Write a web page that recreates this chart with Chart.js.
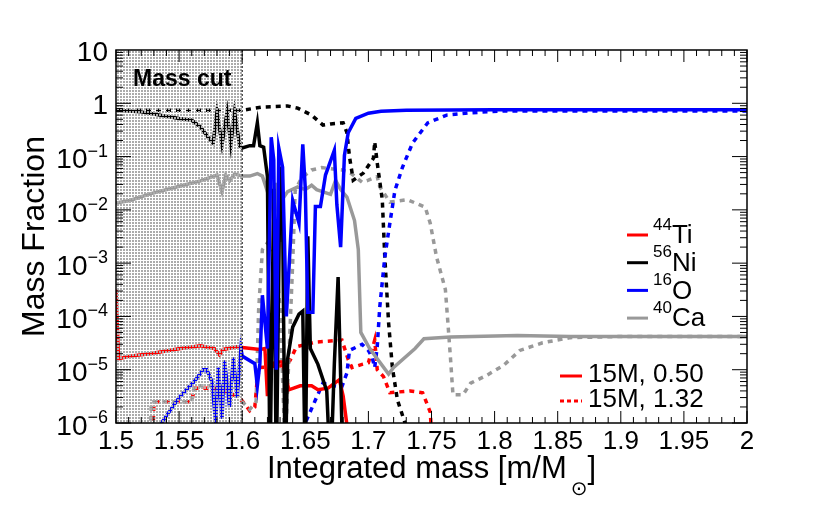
<!DOCTYPE html>
<html>
<head>
<meta charset="utf-8">
<script src="https://cdn.jsdelivr.net/npm/chart.js@4/dist/chart.umd.min.js"></script>
<style>
  html, body { margin: 0; padding: 0; background: #fff; }
  canvas { display: block; }
</style>
</head>
<body>
<canvas id="myChart" width="830" height="505"></canvas>
<script>
// [integrated mass, mass fraction]; 1e-7 / 3e-7 mean "below the axis"
// 15M, 0.50 (solid)
const ti44Solid = [[1.5,3.2e-4],[1.502,1.6e-5],[1.511,1.8e-5],[1.527,2e-5],[1.551,2.5e-5],[1.567,2.8e-5],[1.578,2.5e-5],[1.582,1.9e-5],[1.585,2.4e-5],[1.596,2.7e-5],[1.6,2.6e-5],[1.614,2.4e-5],[1.618,2.5e-5],[1.62,3.2e-6],[1.622,1.26e-5],[1.628,1.4e-5],[1.632,1.4e-5],[1.637,4.2e-6],[1.646,5e-6],[1.655,5e-6],[1.66,4.2e-6],[1.668,4.5e-6],[1.677,6.5e-6],[1.68,3.2e-6],[1.684,6e-7]];
const ni56Solid = [[1.5,0.74],[1.52,0.69],[1.55,0.52],[1.56,0.48],[1.567,0.36],[1.573,0.23],[1.577,0.18],[1.58,0.68],[1.584,0.17],[1.588,0.68],[1.591,0.17],[1.594,0.68],[1.598,0.16],[1.6,0.145],[1.606,0.16],[1.609,0.16],[1.612,0.43],[1.614,0.16],[1.617,0.15],[1.62,0.042],[1.622,1e-7],[1.625,0.025],[1.627,1e-7],[1.63,0.065],[1.632,0.01],[1.634,1e-7],[1.636,1.6e-5],[1.64,6.3e-5],[1.645,1.1e-4],[1.648,1.26e-4],[1.65,1e-7],[1.652,3.2e-3],[1.654,2.5e-5],[1.66,1.26e-5],[1.667,4e-6],[1.67,1e-7],[1.673,1.26e-5],[1.676,5.5e-4],[1.68,1e-7]];
const o16Solid = [[1.533,1e-7],[1.536,1e-6],[1.55,3e-6],[1.562,6e-6],[1.569,1e-5],[1.572,1e-5],[1.576,6e-6],[1.579,1e-6],[1.581,1.1e-5],[1.584,1.2e-6],[1.586,1.5e-5],[1.59,2e-6],[1.593,1.7e-5],[1.596,3e-6],[1.599,2.5e-5],[1.6,1.8e-5],[1.61,1.3e-5],[1.612,5e-6],[1.614,1.3e-5],[1.616,2.5e-4],[1.62,2.5e-5],[1.623,0.23],[1.625,0.087],[1.627,1e-5],[1.629,0.145],[1.632,0.063],[1.635,1e-4],[1.64,0.015],[1.645,5.6e-3],[1.648,0.17],[1.65,0.025],[1.652,1.2e-4],[1.656,1.2e-4],[1.658,0.0115],[1.662,0.0115],[1.666,0.045],[1.673,0.13],[1.675,0.0126],[1.678,2e-3],[1.681,0.105],[1.684,0.28],[1.69,0.52],[1.7,0.65],[1.71,0.71],[1.73,0.74],[1.8,0.76],[2.0,0.76]];
const ca40Solid = [[1.5,0.0135],[1.511,0.015],[1.527,0.02],[1.551,0.028],[1.567,0.035],[1.58,0.045],[1.584,0.022],[1.587,0.045],[1.59,0.035],[1.594,0.047],[1.6,0.043],[1.606,0.043],[1.612,0.048],[1.616,0.043],[1.62,0.022],[1.622,0.05],[1.625,0.0063],[1.627,0.032],[1.63,0.0025],[1.632,0.016],[1.636,0.022],[1.644,0.027],[1.65,0.024],[1.655,0.029],[1.659,0.024],[1.67,0.0195],[1.674,0.036],[1.678,0.024],[1.683,0.0174],[1.689,0.0063],[1.692,0.0018],[1.694,5e-5],[1.701,2.5e-5],[1.716,8.3e-6],[1.72,1.1e-5],[1.737,2.5e-5],[1.744,3.8e-5],[1.765,4.1e-5],[1.818,4.4e-5],[1.86,4.2e-5],[2.0,4.2e-5]];
// 15M, 1.32 (dotted)
const ti44Dot = [[1.529,3e-7],[1.53,2.5e-6],[1.56,2.5e-6],[1.562,4.5e-6],[1.578,4.5e-6],[1.59,3.8e-6],[1.6,2.6e-6],[1.606,1.7e-6],[1.61,2e-6],[1.612,7e-6],[1.614,1.1e-5],[1.634,1.2e-5],[1.638,1.5e-5],[1.643,2.7e-5],[1.658,3.3e-5],[1.679,3.6e-5],[1.684,1.55e-5],[1.687,1.1e-5],[1.695,1.26e-5],[1.7,1.35e-5],[1.705,3.6e-5],[1.707,1e-5],[1.712,7.4e-6],[1.717,3.7e-6],[1.733,4e-6],[1.743,3.7e-6],[1.749,1.6e-6],[1.751,3e-7]];
const ni56Dot = [[1.5,0.74],[1.6,0.74],[1.616,0.85],[1.636,0.89],[1.644,0.81],[1.655,0.6],[1.664,0.39],[1.67,0.41],[1.68,0.43],[1.683,0.28],[1.685,0.1],[1.688,0.036],[1.696,0.049],[1.704,0.093],[1.705,0.19],[1.707,0.076],[1.711,0.0155],[1.713,1.3e-3],[1.716,7.6e-5],[1.719,1.1e-5],[1.723,2.7e-6],[1.729,1e-6],[1.732,3e-7]];
const o16Dot = [[1.648,3e-7],[1.65,1e-6],[1.658,2.7e-6],[1.664,5.6e-6],[1.67,5.1e-6],[1.679,4.8e-6],[1.683,8.7e-6],[1.685,2.3e-5],[1.695,3e-5],[1.7,2.3e-5],[1.703,1.7e-5],[1.705,1.1e-5],[1.707,2.7e-5],[1.709,1.5e-4],[1.713,1.3e-3],[1.717,5.6e-3],[1.721,0.023],[1.727,0.063],[1.735,0.18],[1.747,0.43],[1.762,0.6],[1.78,0.66],[1.807,0.72],[1.86,0.72],[2.0,0.72]];
const ca40Dot = [[1.527,3e-7],[1.528,2.5e-6],[1.56,2.5e-6],[1.562,5e-6],[1.58,5e-6],[1.592,4.5e-6],[1.6,2.5e-6],[1.606,1.8e-6],[1.611,2.5e-6],[1.613,1.3e-4],[1.616,1.8e-3],[1.62,2.4e-3],[1.626,1.55e-3],[1.63,1.5e-4],[1.634,3e-7],[1.64,1e-3],[1.642,0.023],[1.647,0.04],[1.655,0.056],[1.663,0.062],[1.679,0.056],[1.685,0.051],[1.695,0.033],[1.7,0.036],[1.707,0.042],[1.709,0.027],[1.717,0.014],[1.731,0.0155],[1.745,0.0112],[1.749,5.6e-3],[1.754,1.3e-3],[1.761,3.2e-4],[1.763,7.6e-5],[1.765,1.7e-5],[1.767,3.4e-6],[1.775,3.4e-6],[1.781,5.6e-6],[1.794,7.9e-6],[1.807,1.2e-5],[1.82,2.3e-5],[1.838,3.2e-5],[1.86,4e-5],[1.9,4.2e-5],[2.0,4.2e-5]];

const massCut = 1.6;
const xTickVals = [1.5, 1.55, 1.6, 1.65, 1.7, 1.75, 1.8, 1.85, 1.9, 1.95, 2];
const xTickLabels = ['1.5', '1.55', '1.6', '1.65', '1.7', '1.75', '1.8', '1.85', '1.9', '1.95', '2'];
const yTickExps = [1, 0, -1, -2, -3, -4, -5, -6];
const speciesMass = ['44', '56', '16', '40'];
const speciesName = ['Ti', 'Ni', 'O', 'Ca'];
const speciesColor = ['#ff0000', '#000000', '#0000ff', '#999999'];
const modelLabels = ['15M, 0.50', '15M, 1.32'];

const FONT = '"Liberation Sans", Arial, Helvetica, sans-serif';
const DOTS = [5, 5];

function toXY(rows) {
  return rows.map(r => ({ x: r[0], y: r[1] }));
}

function line(rows, color, dash) {
  return {
    data: toXY(rows),
    borderColor: color,
    borderWidth: 3.5,
    borderDash: dash,
    pointRadius: 0,
    tension: 0,
    fill: false,
    clip: 0
  };
}

// 3x3 tile: a 2x2 grey dot, the rest left see-through like ROOT's hatch
function stipple(ctx) {
  const c = document.createElement('canvas');
  c.width = 3; c.height = 3;
  const p = c.getContext('2d');
  p.fillStyle = '#ababab';
  p.fillRect(0, 0, 2, 2);
  return ctx.createPattern(c, 'repeat');
}

// mass cut band, frame, inner ticks, labels and legends
const decor = {
  id: 'decor',
  afterDatasetsDraw(chart) {
    const ctx = chart.ctx, a = chart.chartArea;
    const sx = chart.scales.x, sy = chart.scales.y;
    ctx.save();

    const cut = sx.getPixelForValue(massCut);
    ctx.fillStyle = stipple(ctx);
    ctx.fillRect(a.left, a.top, cut - a.left, a.bottom - a.top);
    ctx.strokeStyle = '#000';
    ctx.lineWidth = 1;
    ctx.setLineDash([2, 2]);
    ctx.beginPath();
    ctx.moveTo(cut, a.top);
    ctx.lineTo(cut, a.bottom);
    ctx.stroke();
    ctx.setLineDash([]);

    ctx.fillStyle = '#000';
    ctx.font = 'bold 23px ' + FONT;
    ctx.textAlign = 'left';
    ctx.textBaseline = 'middle';
    ctx.fillText('Mass cut', a.left + 17, a.top + 30);

    // frame
    ctx.lineWidth = 1.5;
    ctx.strokeRect(a.left, a.top, a.right - a.left, a.bottom - a.top);

    // ticks
    ctx.lineWidth = 1;
    ctx.beginPath();
    for (let i = 0; i <= 50; i++) {
      const px = sx.getPixelForValue(1.5 + i * 0.01);
      const len = i % 5 === 0 ? 12 : 6;
      ctx.moveTo(px, a.bottom); ctx.lineTo(px, a.bottom - len);
      ctx.moveTo(px, a.top); ctx.lineTo(px, a.top + len);
    }
    for (let e = -6; e <= 0; e++) {
      for (let k = 1; k <= 9; k++) {
        const py = sy.getPixelForValue(k * Math.pow(10, e));
        const len = k === 1 ? 15 : 7;
        ctx.moveTo(a.left, py); ctx.lineTo(a.left + len, py);
        ctx.moveTo(a.right, py); ctx.lineTo(a.right - len, py);
      }
    }
    ctx.stroke();

    // x tick labels
    ctx.font = '26px ' + FONT;
    ctx.textAlign = 'center';
    xTickVals.forEach((v, i) => {
      ctx.fillText(xTickLabels[i], sx.getPixelForValue(v), a.bottom + 19);
    });

    // y tick labels: 10, 1, 10^-n
    ctx.textAlign = 'right';
    const rx = a.left - 8;
    yTickExps.forEach(e => {
      const py = sy.getPixelForValue(Math.pow(10, e));
      if (e === 1 || e === 0) {
        ctx.font = '28px ' + FONT;
        ctx.fillText(e === 1 ? '10' : '1', rx, py + 3);
      } else {
        const sup = '\u2212' + (-e);
        ctx.font = '18px ' + FONT;
        const w = ctx.measureText(sup).width;
        ctx.fillText(sup, rx, py - 5);
        ctx.font = '28px ' + FONT;
        ctx.fillText('10', rx - w, py + 4);
      }
    });

    // axis titles
    ctx.font = '32px ' + FONT;
    ctx.textAlign = 'center';
    ctx.textBaseline = 'alphabetic';
    ctx.save();
    ctx.translate(44, (a.top + a.bottom) / 2);
    ctx.rotate(-Math.PI / 2);
    ctx.fillText('Mass Fraction', 0, 0);
    ctx.restore();

    const t1 = 'Integrated mass [m/M';
    const sun = '\u2299';
    const t2 = ']';
    ctx.font = '31px ' + FONT;
    const w1 = ctx.measureText(t1).width;
    const w3 = ctx.measureText(t2).width;
    ctx.font = '20px "DejaVu Sans", sans-serif';
    const w2 = ctx.measureText(sun).width;
    const gap = 4;
    let tx = (a.left + a.right) / 2 - (w1 + gap + w2 + w3) / 2;
    ctx.textAlign = 'left';
    ctx.font = '31px ' + FONT;
    ctx.fillText(t1, tx, 478);
    tx += w1 + gap;
    ctx.font = '20px "DejaVu Sans", sans-serif';
    ctx.fillText(sun, tx, 495);
    tx += w2;
    ctx.font = '31px ' + FONT;
    ctx.fillText(t2, tx, 478);

    // species legend
    ctx.textBaseline = 'middle';
    speciesName.forEach((name, i) => {
      const ly = 235 + i * 27.7;
      ctx.strokeStyle = speciesColor[i];
      ctx.lineWidth = 3;
      ctx.beginPath();
      ctx.moveTo(627, ly); ctx.lineTo(648, ly);
      ctx.stroke();
      ctx.fillStyle = '#000';
      ctx.font = '17px ' + FONT;
      ctx.fillText(speciesMass[i], 653, ly - 10);
      const sw = ctx.measureText(speciesMass[i]).width;
      ctx.font = '26px ' + FONT;
      ctx.fillText(name, 653 + sw, ly + 1);
    });

    // model legend
    modelLabels.forEach((lab, i) => {
      const ly = 376 + i * 25;
      ctx.strokeStyle = '#ff0000';
      ctx.lineWidth = 3;
      ctx.setLineDash(i === 0 ? [] : [4, 3]);
      ctx.beginPath();
      ctx.moveTo(560, ly); ctx.lineTo(582, ly);
      ctx.stroke();
      ctx.setLineDash([]);
      ctx.fillStyle = '#000';
      ctx.font = '26px ' + FONT;
      ctx.fillText(lab, 588, ly - 1);
    });

    ctx.restore();
  }
};

const myChart = new Chart(document.getElementById('myChart').getContext('2d'), {
  type: 'line',
  data: {
    datasets: [
      line(o16Solid, '#0000ff', []),
      line(ni56Solid, '#000000', []),
      line(ca40Solid, '#999999', []),
      line(ti44Solid, '#ff0000', []),
      line(o16Dot, '#0000ff', DOTS),
      line(ni56Dot, '#000000', DOTS),
      line(ca40Dot, '#999999', DOTS),
      line(ti44Dot, '#ff0000', DOTS)
    ]
  },
  options: {
    responsive: false,
    animation: false,
    layout: { padding: { left: 116, right: 83, top: 50, bottom: 82 } },
    plugins: { legend: { display: false }, tooltip: { enabled: false } },
    scales: {
      x: { type: 'linear', min: 1.5, max: 2, display: false },
      y: { type: 'logarithmic', min: 1e-6, max: 10, display: false }
    }
  },
  plugins: [decor]
});
</script>
</body>
</html>
